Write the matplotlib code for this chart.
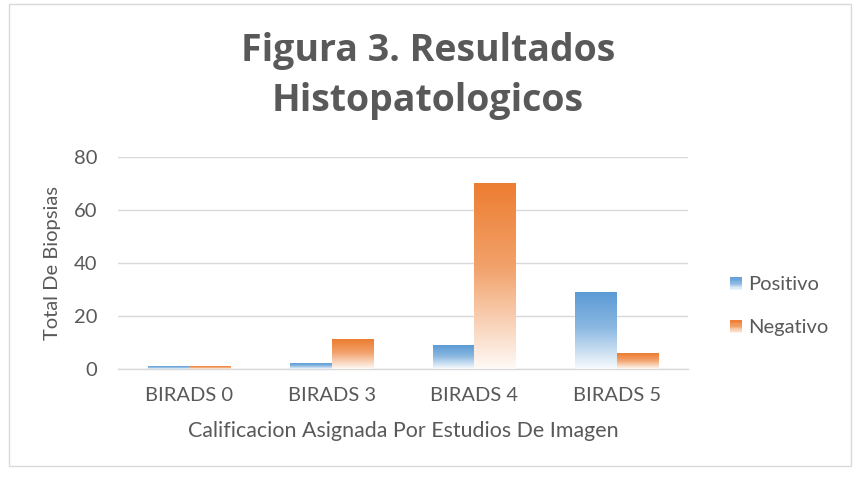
import numpy as np
import matplotlib
matplotlib.use("Agg")
import matplotlib.pyplot as plt
from matplotlib.patches import Rectangle
from matplotlib.legend_handler import HandlerBase
from matplotlib.colors import LinearSegmentedColormap, to_rgb

categories = ["BIRADS 0", "BIRADS 3", "BIRADS 4", "BIRADS 5"]
positivo = [1, 2, 9, 29]
negativo = [1, 11, 70, 6]
series_names = ["Positivo", "Negativo"]
series_colors = ["#5B9BD5", "#ED7D31"]
yticks = [0, 20, 40, 60, 80]

plt.rcParams['font.family'] = ['Lato', 'DejaVu Sans']
text_color = "#595959"

fig = plt.figure(figsize=(8.56, 4.8), dpi=100)
ax = fig.add_axes([118/856, 1-369/480, 570/856, 212/480])

def grad_cmap(c):
    r, g, b = to_rgb(c)
    w = np.array([1, 1, 1])
    col = np.array([r, g, b])
    stops = [(0.0, 0.04), (0.25, 0.35), (0.55, 0.72), (1.0, 1.0)]
    cl = [(p, tuple(w + (col - w) * a)) for p, a in stops]
    return LinearSegmentedColormap.from_list("g", cl)

width = 0.29
x = np.arange(len(categories))
grad = np.linspace(0, 1, 256).reshape(-1, 1)
for i, (vals, c) in enumerate(zip([positivo, negativo], series_colors)):
    cmap = grad_cmap(c)
    offs = (i - 0.5) * width
    bars = ax.bar(x + offs, vals, width=width, color='none', edgecolor='none', zorder=3)
    for b in bars:
        x0, y0 = b.get_x(), b.get_y()
        ax.imshow(grad, extent=[x0, x0 + b.get_width(), y0, y0 + b.get_height()],
                  origin='lower', cmap=cmap, aspect='auto', zorder=3,
                  interpolation='bilinear')

ax.set_xlim(-0.5, 3.5)
ax.set_ylim(0, 80)
ax.set_yticks(yticks)
ax.set_xticks(x)
ax.set_xticklabels(categories)
ax.yaxis.grid(True, color="#D9D9D9", linewidth=1.0, zorder=0)
ax.set_axisbelow(True)
for s in ["top", "right", "left"]:
    ax.spines[s].set_visible(False)
ax.spines["bottom"].set_color("#D9D9D9")
ax.spines["bottom"].set_linewidth(1.0)
ax.tick_params(axis='both', length=0, labelsize=14.5, colors=text_color)
ax.tick_params(axis='y', pad=15)
ax.tick_params(axis='x', pad=13)
ax.set_ylabel("Total De Biopsias", fontsize=14.5, color=text_color, labelpad=9)
ax.set_xlabel("Calificacion Asignada Por Estudios De Imagen", fontsize=15.4,
              color=text_color, labelpad=12)

fig.text(0.5, 1 - 76/480, "Figura 3. Resultados\nHistopatologicos", ha='center',
         va='center', fontsize=27, fontweight='bold', color=text_color,
         linespacing=1.4, family=['Open Sans', 'DejaVu Sans'])

class GradHandler(HandlerBase):
    def __init__(self, color):
        super().__init__()
        self.cmap = grad_cmap(color)
    def create_artists(self, legend, orig_handle, xdescent, ydescent, width, height, fontsize, trans):
        arts = []
        n = 10
        side = height * 0.9
        x0 = xdescent * -1 + (width - side)
        for k in range(n):
            t = 1 - (k + 0.5) / n
            r = Rectangle((x0, -ydescent + side * (n - 1 - k) / n), side, side / n,
                          facecolor=self.cmap(t), edgecolor='none', transform=trans)
            arts.append(r)
        return arts

handles = [Rectangle((0, 0), 1, 1) for _ in series_names]
leg = fig.legend(handles, series_names, loc='center left',
                 bbox_to_anchor=(708/856, 1 - 306/480), frameon=False,
                 fontsize=14.5, labelspacing=1.3, handlelength=0.8, handletextpad=0.3,
                 handler_map={handles[0]: GradHandler(series_colors[0]),
                              handles[1]: GradHandler(series_colors[1])})
for t in leg.get_texts():
    t.set_color(text_color)

border = Rectangle((9/856, 1 - 466/480), 842/856, 462/480, transform=fig.transFigure,
                   fill=False, edgecolor="#D9D9D9", linewidth=1.0)
fig.patches.append(border)

fig.savefig("out.png", dpi=100, facecolor="white")
